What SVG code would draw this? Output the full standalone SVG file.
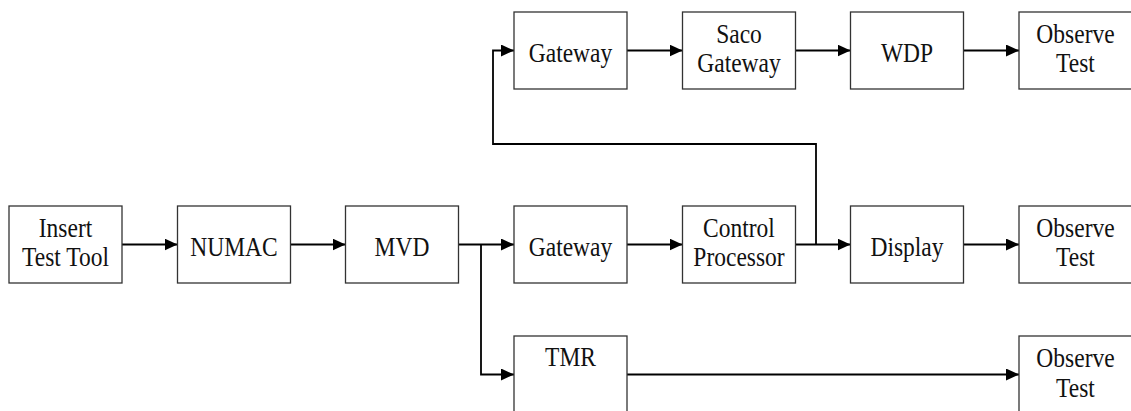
<svg xmlns="http://www.w3.org/2000/svg" width="1131" height="411" viewBox="0 0 1131 411">
  <style>
    .box { fill: #fff; stroke: #333; stroke-width: 1.3; }
    .lbl { font-family: 'Liberation Serif', 'DejaVu Serif', serif; font-size: 23.5px; fill: #111; text-anchor: middle; }
    .wire { fill: none; stroke: #000; stroke-width: 1.8; }
  </style>
  <defs>
    <marker id="arrow" markerUnits="userSpaceOnUse" markerWidth="13" markerHeight="12" refX="13" refY="6" orient="auto">
      <path d="M0,0 L13,6 L0,12 Z" fill="#000"/>
    </marker>
  </defs>
  <rect width="1131" height="411" fill="#fff"/>

  <!-- connectors -->
  <g id="connectors" class="wire">
    <line x1="122" y1="244.5" x2="177.5" y2="244.5" marker-end="url(#arrow)"/>
    <line x1="290.5" y1="244.5" x2="345.5" y2="244.5" marker-end="url(#arrow)"/>
    <line x1="458.5" y1="244.5" x2="514" y2="244.5" marker-end="url(#arrow)"/>
    <line x1="627" y1="244.5" x2="682.5" y2="244.5" marker-end="url(#arrow)"/>
    <line x1="795.5" y1="244.5" x2="850.5" y2="244.5" marker-end="url(#arrow)"/>
    <line x1="963.5" y1="244.5" x2="1019" y2="244.5" marker-end="url(#arrow)"/>
    <!-- MVD branch down to TMR -->
    <polyline points="481,244.5 481,374.5 514,374.5" marker-end="url(#arrow)"/>
    <!-- Control Processor branch up to the upper Gateway -->
    <polyline points="816,244.5 816,144 493,144 493,50.5 514,50.5" marker-end="url(#arrow)"/>
    <!-- upper chain -->
    <line x1="627" y1="50.5" x2="682.5" y2="50.5" marker-end="url(#arrow)"/>
    <line x1="795.5" y1="50.5" x2="850.5" y2="50.5" marker-end="url(#arrow)"/>
    <line x1="963.5" y1="50.5" x2="1019" y2="50.5" marker-end="url(#arrow)"/>
    <!-- TMR to its observation -->
    <line x1="627" y1="374.5" x2="1019" y2="374.5" marker-end="url(#arrow)"/>
  </g>

  <!-- middle row -->
  <g id="insert-test-tool">
    <rect class="box" x="9" y="206" width="113" height="77"/>
    <text class="lbl" font-family="Liberation Serif, serif" transform="translate(65.5 236.5) scale(1 1.15)">Insert</text>
    <text class="lbl" font-family="Liberation Serif, serif" transform="translate(65.5 265.5) scale(1 1.15)">Test Tool</text>
  </g>
  <g id="numac">
    <rect class="box" x="177.5" y="206" width="113" height="77"/>
    <text class="lbl" font-family="Liberation Serif, serif" transform="translate(234 256) scale(1 1.15)">NUMAC</text>
  </g>
  <g id="mvd">
    <rect class="box" x="345.5" y="206" width="113" height="77"/>
    <text class="lbl" font-family="Liberation Serif, serif" transform="translate(402 256) scale(1 1.15)">MVD</text>
  </g>
  <g id="gateway">
    <rect class="box" x="514" y="206" width="113" height="77"/>
    <text class="lbl" font-family="Liberation Serif, serif" transform="translate(570.5 256) scale(1 1.15)">Gateway</text>
  </g>
  <g id="control-processor">
    <rect class="box" x="682.5" y="206" width="113" height="77"/>
    <text class="lbl" font-family="Liberation Serif, serif" transform="translate(739 236.5) scale(1 1.15)">Control</text>
    <text class="lbl" font-family="Liberation Serif, serif" transform="translate(739 265.5) scale(1 1.15)">Processor</text>
  </g>
  <g id="display">
    <rect class="box" x="850.5" y="206" width="113" height="77"/>
    <text class="lbl" font-family="Liberation Serif, serif" transform="translate(907 256) scale(1 1.15)">Display</text>
  </g>
  <g id="observe-test-mid">
    <rect class="box" x="1019" y="206" width="113" height="77"/>
    <text class="lbl" font-family="Liberation Serif, serif" transform="translate(1075.5 236.5) scale(1 1.15)">Observe</text>
    <text class="lbl" font-family="Liberation Serif, serif" transform="translate(1075.5 265.5) scale(1 1.15)">Test</text>
  </g>

  <!-- upper row -->
  <g id="gateway-upper">
    <rect class="box" x="514" y="12" width="113" height="77"/>
    <text class="lbl" font-family="Liberation Serif, serif" transform="translate(570.5 62) scale(1 1.15)">Gateway</text>
  </g>
  <g id="saco-gateway">
    <rect class="box" x="682.5" y="12" width="113" height="77"/>
    <text class="lbl" font-family="Liberation Serif, serif" transform="translate(739 42.5) scale(1 1.15)">Saco</text>
    <text class="lbl" font-family="Liberation Serif, serif" transform="translate(739 71.5) scale(1 1.15)">Gateway</text>
  </g>
  <g id="wdp">
    <rect class="box" x="850.5" y="12" width="113" height="77"/>
    <text class="lbl" font-family="Liberation Serif, serif" transform="translate(907 62) scale(1 1.15)">WDP</text>
  </g>
  <g id="observe-test-upper">
    <rect class="box" x="1019" y="12" width="113" height="77"/>
    <text class="lbl" font-family="Liberation Serif, serif" transform="translate(1075.5 42.5) scale(1 1.15)">Observe</text>
    <text class="lbl" font-family="Liberation Serif, serif" transform="translate(1075.5 71.5) scale(1 1.15)">Test</text>
  </g>

  <!-- lower row -->
  <g id="tmr">
    <rect class="box" x="514" y="336" width="113" height="77"/>
    <text class="lbl" font-family="Liberation Serif, serif" transform="translate(570.5 366) scale(1 1.15)">TMR</text>
  </g>
  <g id="observe-test-lower">
    <rect class="box" x="1019" y="336" width="113" height="77"/>
    <text class="lbl" font-family="Liberation Serif, serif" transform="translate(1075.5 366.5) scale(1 1.15)">Observe</text>
    <text class="lbl" font-family="Liberation Serif, serif" transform="translate(1075.5 396.5) scale(1 1.15)">Test</text>
  </g>
</svg>
